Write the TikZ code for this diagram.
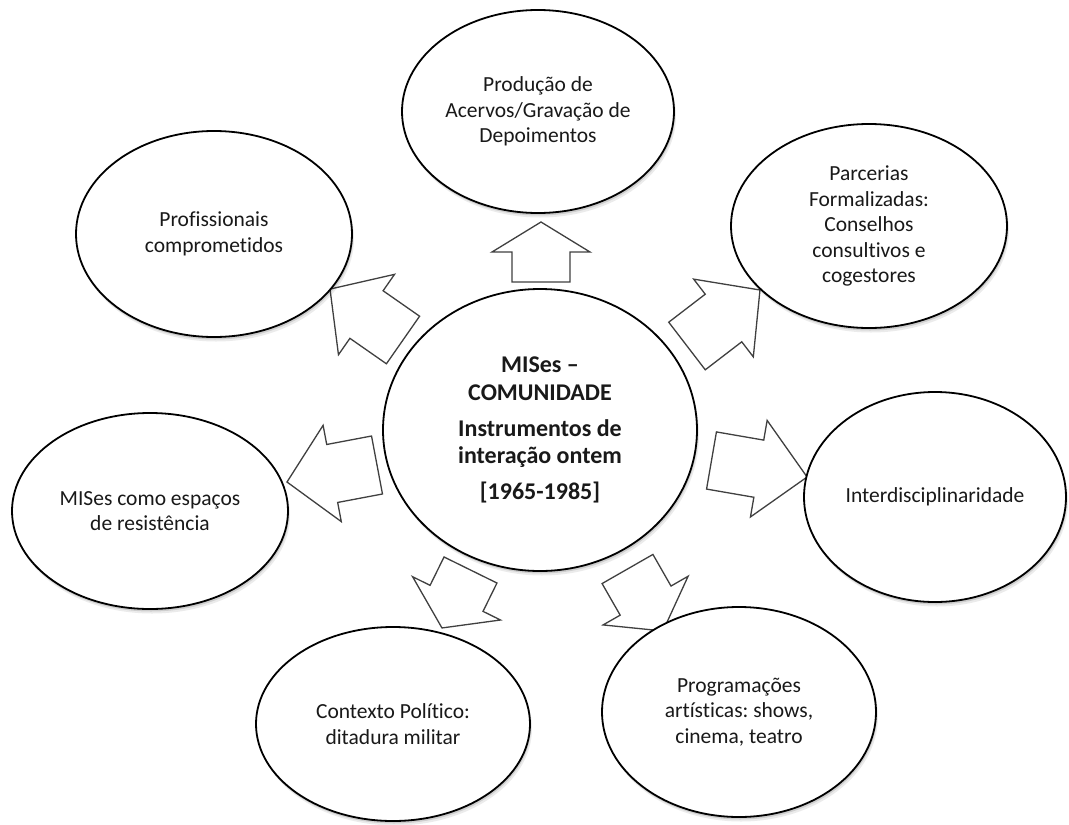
\documentclass[tikz,border=0pt]{standalone}
\usepackage{fontspec}
\setmainfont{Carlito}[Ligatures=NoCommon]
\frenchspacing
\usetikzlibrary{shapes.geometric,shadows}

% block arrow: base point, direction angle, total length, head length, shaft half-width
\newcommand{\blockarrow}[5]{%
  \draw[arrowline, shift={#1}, rotate=#2]
    (0,-#5) -- ({#3-#4},-#5) -- ({#3-#4},-49) -- (#3,0)
    -- ({#3-#4},49) -- ({#3-#4},#5) -- (0,#5) -- cycle;}

\begin{document}
\begin{tikzpicture}[x=1pt,y=1pt,
  bubble/.style={ellipse, draw=black, line width=1.8pt, fill=white,
    inner sep=0pt, align=center, text=black!90,
    font=\fontsize{21.5}{25.5}\selectfont,
    general shadow={fill=black, opacity=0.12, shadow xshift=1pt, shadow yshift=-2.5pt},
    general shadow={fill=black, opacity=0.08, shadow xshift=2pt, shadow yshift=-4.5pt}},
  hub/.style={bubble, font=\bfseries\fontsize{24}{27.5}\selectfont},
  arrowline/.style={draw=black!75, line width=1.3pt, fill=white, line join=miter}
]
\useasboundingbox (0,0) rectangle (1069,-825);
\fill[white] (0,0) rectangle (1069,-825);

% block arrows pointing outwards from the hub
\blockarrow{(541,-282)}{90}{60}{30}{29}
\blockarrow{(687,-346)}{37.5}{92}{46}{30}
\blockarrow{(403,-340)}{145.1}{89}{44.5}{29}
\blockarrow{(377,-465)}{190.7}{91.6}{46}{29.5}
\blockarrow{(711.5,-460.5)}{-9.8}{97}{49}{29}
\blockarrow{(470.5,-570)}{243.8}{64.6}{33}{29.5}
\blockarrow{(627.5,-569)}{-60.2}{71.4}{35}{29.3}

% hub
\node[hub, minimum width=314pt, minimum height=282pt] (hub) at (540,-430)
  {MISes --\\COMUNIDADE\\[8.5pt]Instrumentos de\\intera\c{c}ão ontem\\[8.5pt][1965-1985]};

% surrounding bubbles
\node[bubble, minimum width=272pt, minimum height=203pt] (acervos) at (538,-111.5)
  {Produção de\\Acervos/Gravação de\\Depoimentos};
\node[bubble, minimum width=276pt, minimum height=206pt] (prof) at (214,-234)
  {Profissionais\\comprometidos};
\node[bubble, minimum width=276pt, minimum height=204pt] (parc) at (869,-226)
  {Parcerias\\Formalizadas:\\Conselhos\\consultivos e\\cogestores};
\node[bubble, minimum width=262pt, minimum height=210pt] (inter) at (935,-497)
  {Interdisciplinaridade};
\node[bubble, minimum width=276pt, minimum height=196pt] (resist) at (150,-511)
  {MISes como espaços\\de resistência};
\node[bubble, minimum width=274pt, minimum height=194pt] (contexto) at (393,-724)
  {Contexto Político:\\ditadura militar};
\node[bubble, minimum width=274pt, minimum height=210pt] (prog) at (739,-712)
  {Programações\\artísticas: shows,\\cinema, teatro};
\end{tikzpicture}
\end{document}
